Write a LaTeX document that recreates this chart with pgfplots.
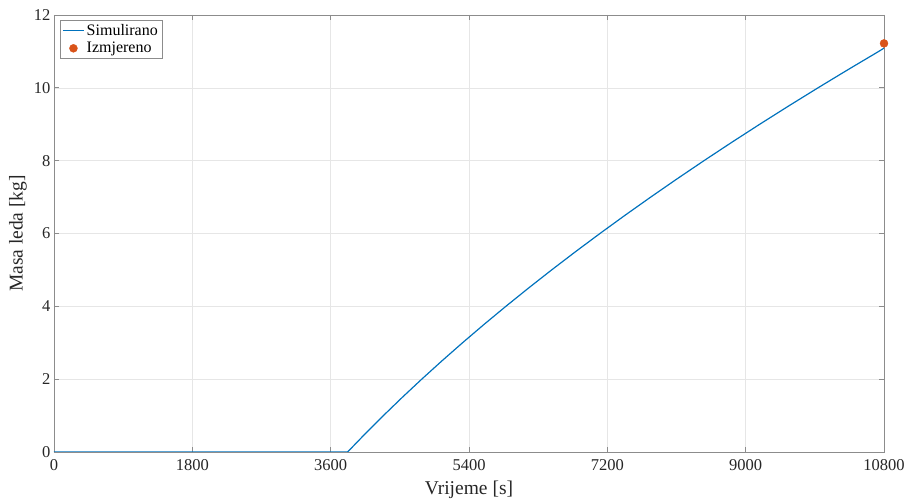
\documentclass[border=0pt]{standalone}
\usepackage{fontspec}
\setmainfont{Liberation Serif}
\usepackage{pgfplots}
\pgfplotsset{compat=1.18}
\definecolor{mblue}{RGB}{0,114,189}
\definecolor{morange}{RGB}{217,83,25}
\definecolor{axgray}{RGB}{140,140,140}
\definecolor{gridgray}{RGB}{230,230,230}
\begin{document}
\begin{tikzpicture}
\path[use as bounding box] (-54pt,-50pt) rectangle (855pt,452pt);
\begin{axis}[
  at={(0,0)}, anchor=south west,
  scale only axis,
  width=830pt, height=437pt,
  xmin=0, xmax=10800, ymin=0, ymax=12,
  xtick={0,1800,3600,5400,7200,9000,10800},
  ytick={0,2,4,6,8,10,12},
  scaled x ticks=false,
  /pgf/number format/assume math mode=true,
  xticklabels={0,1800,3600,5400,7200,9000,10800},
  xticklabel style={yshift=-4pt},
  tick label style={font=\fontsize{16.5}{19}\selectfont, text=black!85},
  tick align=inside,
  major tick length=5pt,
  xtick pos=both, ytick pos=both,
  axis line style={axgray, line width=0.8pt},
  tick style={axgray, line width=0.8pt},
  grid=major,
  major grid style={gridgray, line width=0.6pt},
  xlabel={Vrijeme [s]},
  ylabel={Masa leda [kg]},
  label style={font=\fontsize{19.5}{22}\selectfont, text=black!85},
  xlabel style={at={(axis description cs:0.5,-0.087)}, anchor=center},
  ylabel style={at={(axis description cs:-0.0435,0.5)}, anchor=center},
  legend style={at={(0.0072,0.9886)}, anchor=north west, draw=axgray,
    font=\fontsize{16}{18}\selectfont, inner xsep=2pt, inner ysep=2pt, row sep=1.5pt,
    legend cell align=left},
  legend image code/.code={\draw[#1] (0cm,0cm) -- (0.75cm,0cm);},
]
\addplot[mblue, line width=1.2pt] coordinates {
(0,0) (3820,0) (4049.1,0.5) (4286.3,1) (4531.6,1.5) (4785.0,2) (5046.5,2.5)
(5316.1,3) (5593.8,3.5) (5879.6,4) (6173.5,4.5) (6475.5,5) (6785.6,5.5)
(7103.8,6) (7430.1,6.5) (7764.5,7) (8107.0,7.5) (8457.6,8) (8816.3,8.5)
(9183.1,9) (9558.0,9.5) (9941.0,10) (10332.1,10.5) (10731.3,11) (10800,11.09)
};
\addlegendentry{Simulirano}
\addplot[only marks, mark=*, mark size=4pt, color=morange,
  legend image code/.code={\fill[morange] (0.375cm,0cm) circle (4pt);}] coordinates {(10800,11.22)};
\addlegendentry{Izmjereno}
\end{axis}
\end{tikzpicture}
\end{document}
